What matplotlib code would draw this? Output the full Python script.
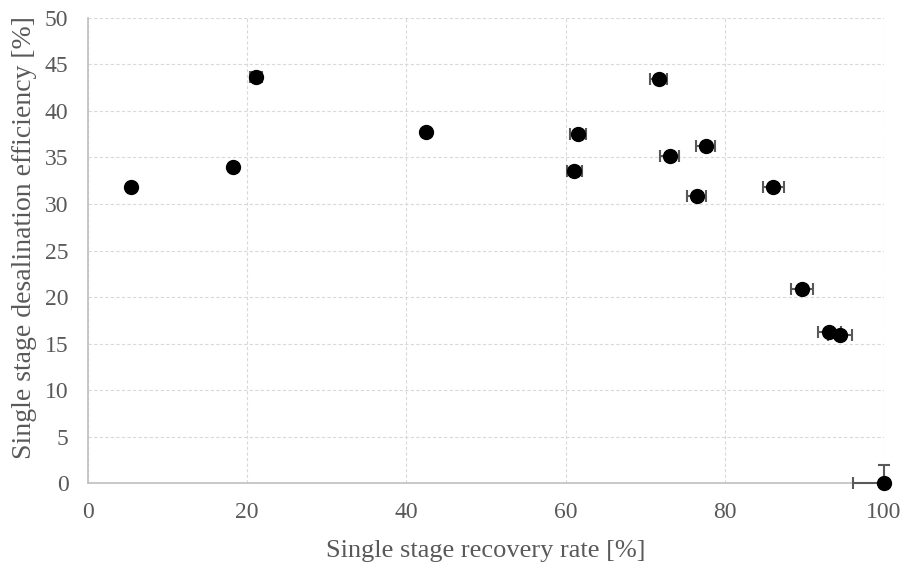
import matplotlib.pyplot as plt

# recovery rate [%] vs desalination efficiency [%]
recovery = [5.4, 18.2, 21.1, 42.5, 61.1, 61.6, 71.7, 73.1, 77.6, 76.5, 86.1, 89.7, 93.1, 94.5, 100.0]
efficiency = [31.8, 34.0, 43.7, 37.7, 33.5, 37.5, 43.4, 35.2, 36.2, 30.9, 31.8, 20.9, 16.2, 15.9, 0.0]
recovery_err_lo = [0.2, 0.2, 0.7, 0.2, 0.95, 1.0, 1.1, 1.2, 1.2, 1.2, 1.35, 1.4, 1.45, 1.5, 3.9]
recovery_err_hi = [0.2, 0.2, 0.7, 0.2, 0.95, 1.0, 1.1, 1.2, 1.2, 1.2, 1.35, 1.4, 1.45, 1.5, 0.0]
efficiency_err_lo = [0.2, 0.2, 0.5, 0.2, 0.2, 0.2, 0.2, 0.2, 0.2, 0.2, 0.2, 0.2, 0.2, 0.2, 0.0]
efficiency_err_hi = [0.2, 0.2, 0.5, 0.2, 0.2, 0.2, 0.2, 0.2, 0.2, 0.2, 0.2, 0.2, 0.2, 0.2, 1.9]

x_ticks = [0, 20, 40, 60, 80, 100]
y_ticks = [0, 5, 10, 15, 20, 25, 30, 35, 40, 45, 50]

plt.rcParams["font.family"] = ["Liberation Serif", "DejaVu Serif"]
text_color = "#595959"

fig = plt.figure(figsize=(9.04, 5.64), dpi=100)
ax = fig.add_axes([0.0973, 0.1436, 0.8806, 0.8245])

ax.errorbar(recovery, efficiency,
            xerr=[recovery_err_lo, recovery_err_hi],
            yerr=[efficiency_err_lo, efficiency_err_hi],
            fmt="none", ecolor="#595959", elinewidth=1.5, capsize=4, capthick=1.5,
            zorder=3, clip_on=False)
ax.plot(recovery, efficiency, "o", color="black", markersize=10, zorder=4, clip_on=False)

ax.set_xlim(0, 100)
ax.set_ylim(0, 50)
ax.set_xticks(x_ticks)
ax.set_yticks(y_ticks)
ax.grid(True, color="#d9d9d9", linestyle=(0, (3, 2)), linewidth=0.8)
ax.set_axisbelow(True)

for side in ["top", "right"]:
    ax.spines[side].set_visible(False)
for side in ["left", "bottom"]:
    ax.spines[side].set_color("#bfbfbf")
    ax.spines[side].set_linewidth(1.2)

ax.tick_params(length=0, labelsize=17, colors=text_color)
ax.tick_params(axis="y", pad=14)
ax.tick_params(axis="x", pad=14)
ax.set_xlabel("Single stage recovery rate [%]", fontsize=19, color=text_color, labelpad=12)
ax.set_ylabel("Single stage desalination efficiency [%]", fontsize=20, color=text_color)
ax.yaxis.set_label_coords(-0.064, 0.527)

fig.savefig("out.png", dpi=100)
